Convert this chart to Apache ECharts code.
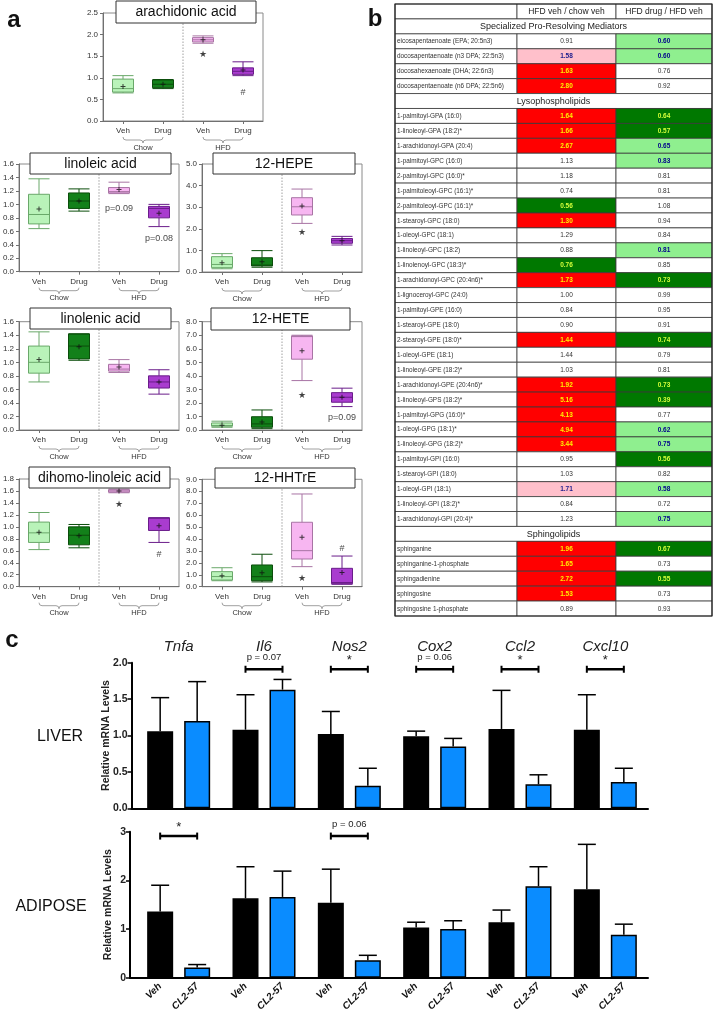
<!DOCTYPE html>
<html><head><meta charset="utf-8">
<script src="https://cdn.jsdelivr.net/npm/echarts@6/dist/echarts.min.js"></script>
<style>html,body{margin:0;padding:0;background:#fff}#c{width:714px;height:1018px}</style>
</head><body><div id="c"></div>
<script>
const FONT = '"Liberation Sans", Arial, sans-serif';

// ---------------- Panel a data ----------------
const groupLabels = ['Veh', 'Drug', 'Veh', 'Drug'];
const dietLabels = ['Chow', 'HFD'];
// box stats: [min, Q1, median, Q3, max]
const arachidonicBox = [[0.65,0.67,0.75,0.97,1.05],[0.75,0.77,0.85,0.95,0.96],[1.80,1.83,1.88,1.93,1.97],[1.05,1.08,1.15,1.23,1.37]];
const arachidonicMean = [0.80, 0.85, 1.88, 1.18];
const arachidonicMarks = [[2, 1.53, '★'], [3, 0.65, '#']];

const linoleicBox = [[0.64,0.71,0.85,1.15,1.38],[0.90,0.94,1.05,1.17,1.23],[1.16,1.17,1.19,1.25,1.33],[0.67,0.80,0.94,0.97,1.00]];
const linoleicMean = [0.93, 1.05, 1.22, 0.87];
const linoleicMarks = [[2, 0.94, 'p=0.09'], [3, 0.49, 'p=0.08']];

const hepeBox = [[0.15,0.20,0.35,0.71,0.85],[0.22,0.28,0.32,0.66,0.99],[2.25,2.64,3.02,3.44,3.84],[1.25,1.33,1.45,1.55,1.65]];
const hepeMean = [0.43, 0.48, 3.05, 1.45];
const hepeMarks = [[2, 1.82, '★']];

const linolenicBox = [[0.71,0.84,1.00,1.24,1.45],[1.03,1.05,1.24,1.42,1.42],[0.85,0.87,0.90,0.97,1.04],[0.53,0.62,0.71,0.80,0.89]];
const linolenicMean = [1.04, 1.23, 0.93, 0.71];
const linolenicMarks = [];

const heteBox = [[0.20,0.28,0.33,0.52,0.65],[0.10,0.20,0.45,0.98,1.48],[3.65,5.23,6.90,6.95,7.00],[1.73,2.05,2.42,2.76,3.09]];
const heteMean = [0.35, 0.60, 5.85, 2.42];
const heteMarks = [[2, 2.58, '★'], [3, 0.91, 'p=0.09']];

const dihomoBox = [[0.62,0.74,0.90,1.08,1.24],[0.65,0.70,0.86,1.00,1.04],[1.57,1.58,1.60,1.62,1.63],[0.74,0.94,1.15,1.15,1.15]];
const dihomoMean = [0.91, 0.85, 1.60, 1.02];
const dihomoMarks = [[2, 1.37, '★'], [3, 0.53, '#']];

const hhtreBox = [[0.50,0.56,0.85,1.26,1.59],[0.40,0.50,0.84,1.82,2.72],[1.68,2.32,3.02,5.40,7.77],[0.20,0.25,0.35,1.54,2.57]];
const hhtreMean = [0.92, 1.17, 4.14, 1.20];
const hhtreMarks = [[2, 0.65, '★'], [3, 3.2, '#']];

const plotTitles = ['arachidonic acid','linoleic acid','12-HEPE','linolenic acid','12-HETE','dihomo-linoleic acid','12-HHTrE'];
const plotBoxes = [arachidonicBox, linoleicBox, hepeBox, linolenicBox, heteBox, dihomoBox, hhtreBox];
const plotMeans = [arachidonicMean, linoleicMean, hepeMean, linolenicMean, heteMean, dihomoMean, hhtreMean];
const plotMarks = [arachidonicMarks, linoleicMarks, hepeMarks, linolenicMarks, heteMarks, dihomoMarks, hhtreMarks];
const plotYMax = [2.5, 1.6, 5, 1.6, 8, 1.8, 9];
const plotYStep = [0.5, 0.2, 1, 0.2, 1, 0.2, 1];

// ---------------- Panel b data ----------------
const colHeaders = ['HFD veh / chow veh', 'HFD drug / HFD veh'];
const sectionTitles = ['Specialized Pro-Resolving Mediators', 'Lysophospholipids', 'Sphingolipids'];
const spmNames = ['eicosapentaenoate (EPA; 20:5n3)','docosapentaenoate (n3 DPA; 22:5n3)','docosahexaenoate (DHA; 22:6n3)','docosapentaenoate (n6 DPA; 22:5n6)'];
const spmVeh = [0.91, 1.58, 1.63, 2.80];
const spmDrug = [0.60, 0.60, 0.76, 0.92];
const spmVehSig = ['W','P','R','R'];
const spmDrugSig = ['L','L','W','W'];
const lysoNames = ['1-palmitoyl-GPA (16:0)','1-linoleoyl-GPA (18:2)*','1-arachidonoyl-GPA (20:4)','1-palmitoyl-GPC (16:0)','2-palmitoyl-GPC (16:0)*','1-palmitoleoyl-GPC (16:1)*','2-palmitoleoyl-GPC (16:1)*','1-stearoyl-GPC (18:0)','1-oleoyl-GPC (18:1)','1-linoleoyl-GPC (18:2)','1-linolenoyl-GPC (18:3)*','1-arachidonoyl-GPC (20:4n6)*','1-lignoceroyl-GPC (24:0)','1-palmitoyl-GPE (16:0)','1-stearoyl-GPE (18:0)','2-stearoyl-GPE (18:0)*','1-oleoyl-GPE (18:1)','1-linoleoyl-GPE (18:2)*','1-arachidonoyl-GPE (20:4n6)*','1-linoleoyl-GPS (18:2)*','1-palmitoyl-GPG (16:0)*','1-oleoyl-GPG (18:1)*','1-linoleoyl-GPG (18:2)*','1-palmitoyl-GPI (16:0)','1-stearoyl-GPI (18:0)','1-oleoyl-GPI (18:1)','1-linoleoyl-GPI (18:2)*','1-arachidonoyl-GPI (20:4)*'];
const lysoVeh = [1.64,1.66,2.67,1.13,1.18,0.74,0.56,1.30,1.29,0.88,0.76,1.73,1.00,0.84,0.90,1.44,1.44,1.03,1.92,5.16,4.13,4.94,3.44,0.95,1.03,1.71,0.84,1.23];
const lysoDrug = [0.64,0.57,0.65,0.83,0.81,0.81,1.08,0.94,0.84,0.81,0.85,0.73,0.99,0.95,0.91,0.74,0.79,0.81,0.73,0.39,0.77,0.62,0.75,0.56,0.82,0.58,0.72,0.75];
const lysoVehSig = ['R','R','R','W','W','W','G','R','W','W','G','R','W','W','W','R','W','W','R','R','R','R','R','W','W','P','W','W'];
const lysoDrugSig = ['G','G','L','L','W','W','W','W','W','L','W','G','W','W','W','G','W','W','G','G','W','L','L','G','W','L','W','L'];
const sphNames = ['sphinganine','sphinganine-1-phosphate','sphingadienine','sphingosine','sphingosine 1-phosphate'];
const sphVeh = [1.96, 1.65, 2.72, 1.53, 0.89];
const sphDrug = [0.67, 0.73, 0.55, 0.73, 0.93];
const sphVehSig = ['R','R','R','R','W'];
const sphDrugSig = ['G','W','G','W','W'];

// ---------------- Panel c data ----------------
const genes = ['Tnfa','Il6','Nos2','Cox2','Ccl2','Cxcl10'];
const treatLabels = ['Veh', 'CL2-57'];
const liverVeh = [1.06, 1.08, 1.02, 0.99, 1.09, 1.08];
const liverVehUpper = [1.52, 1.56, 1.33, 1.06, 1.62, 1.56];
const liverCL = [1.20, 1.63, 0.31, 0.85, 0.33, 0.36];
const liverCLUpper = [1.74, 1.77, 0.55, 0.96, 0.46, 0.55];
const adiposeVeh = [1.36, 1.63, 1.54, 1.03, 1.14, 1.82];
const adiposeVehUpper = [1.90, 2.28, 2.23, 1.14, 1.39, 2.74];
const adiposeCL = [0.21, 1.66, 0.36, 1.00, 1.88, 0.88];
const adiposeCLUpper = [0.27, 2.19, 0.46, 1.17, 2.28, 1.10];
const liverSig = [[1, 'p = 0.07'], [2, '*'], [3, 'p = 0.06'], [4, '*'], [5, '*']];
const liverSigLevel = 1.91;
const adiposeSig = [[0, '*'], [2, 'p = 0.06']];
const adiposeSigLevel = 2.91;

// ---------------- Layout / style ----------------
const plotLayout = [
  {left:103, top:13, width:160, height:108, tb:[116,1,140,22]},
  {left:19, top:164, width:160, height:107.7, tb:[30,153,141,21]},
  {left:202, top:164, width:160, height:108, tb:[213,153,142,21]},
  {left:19, top:321.7, width:160, height:108.3, tb:[30,308,141,21]},
  {left:202, top:321.7, width:160, height:108.3, tb:[211,308,139,22]},
  {left:19, top:479, width:160, height:107.7, tb:[29,467,141,21]},
  {left:202, top:479.3, width:160, height:107.4, tb:[215,468,140,20]}
];
const boxFill = ['#b9f3b9', '#13801a', '#f7b6f1', '#a93ccf'];
const boxBorder = ['#6aa86a', '#0b4d0b', '#a874a4', '#6a1d8a'];
const plusPath = 'path://M2,0H3V2H5V3H3V5H2V3H0V2H2Z';
const sigStyle = {
  R:{bg:'#ff0000', fg:'#ffee00', bold:true},
  G:{bg:'#007800', fg:'#d4ff3a', bold:true},
  L:{bg:'#8fef8f', fg:'#00008b', bold:true},
  P:{bg:'#ffc0cb', fg:'#1a1a8c', bold:true},
  W:{bg:'#ffffff', fg:'#333333', bold:false}
};
const colEdges = [0, 122, 221, 317];
const BAR_W = 26, BAR_GAP = 11, BAR_OFF = (BAR_W + BAR_GAP) / 2, CAP = 9;

// table rows
const rows = [{k:'head'}];
function addSection(title, names, va, vb, sa, sb) {
  rows.push({k:'sec', t:title});
  names.forEach((n, i) => rows.push({k:'row', n, a:va[i], b:vb[i], sa:sa[i], sb:sb[i]}));
}
addSection(sectionTitles[0], spmNames, spmVeh, spmDrug, spmVehSig, spmDrugSig);
addSection(sectionTitles[1], lysoNames, lysoVeh, lysoDrug, lysoVehSig, lysoDrugSig);
addSection(sectionTitles[2], sphNames, sphVeh, sphDrug, sphVehSig, sphDrugSig);

const grid = [], xAxis = [], yAxis = [], series = [], graphics = [];
const axColor = '#707070';

plotTitles.forEach((title, i) => {
  const L = plotLayout[i];
  grid.push({left:L.left, top:L.top, width:L.width, height:L.height, show:true, borderColor:'#8a8a8a', borderWidth:1, outerBoundsMode:'none'});
  xAxis.push({gridIndex:i, type:'category', data:groupLabels,
    axisLine:{show:true, lineStyle:{color:axColor, width:1}},
    axisTick:{show:true, alignWithLabel:true, length:3, lineStyle:{color:axColor}},
    axisLabel:{fontSize:8, color:'#333', margin:6, interval:0, fontFamily:FONT},
    splitLine:{show:false}});
  yAxis.push({gridIndex:i, type:'value', min:0, max:plotYMax[i], interval:plotYStep[i],
    axisLine:{show:true, lineStyle:{color:axColor, width:1}},
    axisTick:{show:true, length:3, lineStyle:{color:axColor}},
    axisLabel:{fontSize:8, color:'#333', margin:5, fontFamily:FONT, formatter:v => v.toFixed(1)},
    splitLine:{show:false}});
  series.push({type:'boxplot', xAxisIndex:i, yAxisIndex:i, boxWidth:[21,21], silent:true,
    data: plotBoxes[i].map((d, k) => ({value:d, itemStyle:{color:boxFill[k], borderColor:boxBorder[k], borderWidth:1}}))});
  series.push({type:'scatter', xAxisIndex:i, yAxisIndex:i, symbol:plusPath, symbolSize:5, silent:true, z:5,
    itemStyle:{color:'#111'}, data: plotMeans[i].map((m, k) => [k, m])});
  series.push({type:'scatter', xAxisIndex:i, yAxisIndex:i, symbolSize:0, silent:true, z:6,
    data: plotMarks[i],
    label:{show:true, position:'inside', color:'#111', fontFamily:FONT,
      formatter: p => p.value[2], fontSize: 9}});
  const ymax = plotYMax[i];
  // divider between diet groups + braces with diet labels
  series.push({type:'custom', xAxisIndex:i, yAxisIndex:i, silent:true, clip:false, z:1,
    data: dietLabels.map((d, g) => [g * 2, 0]),
    renderItem: (params, api) => {
      const g = params.dataIndex;
      const a = api.coord([2*g, 0]), b = api.coord([2*g+1, 0]);
      const x0 = a[0], x1 = b[0], y = a[1] + 16, m = (x0 + x1) / 2, d = 3;
      const ch = [
        {type:'path', shape:{pathData:`M${x0},${y} Q${x0},${y+d} ${x0+d},${y+d} L${m-d},${y+d} Q${m},${y+d} ${m},${y+2*d} Q${m},${y+d} ${m+d},${y+d} L${x1-d},${y+d} Q${x1},${y+d} ${x1},${y}`},
          style:{fill:null, stroke:'#888', lineWidth:0.8}},
        {type:'text', style:{text:dietLabels[g], x:m, y:y+2*d+0.5, align:'center', verticalAlign:'top', fontSize:7.5, fill:'#333', fontFamily:FONT}}
      ];
      if (g === 0) {
        const c1 = api.coord([1, 0]), c2 = api.coord([2, ymax]);
        const xd = (c1[0] + c2[0]) / 2;
        ch.push({type:'line', shape:{x1:xd, y1:c1[1], x2:xd, y2:c2[1]}, style:{stroke:'#888', lineWidth:0.8, lineDash:[1.5,1.5]}});
      }
      return {type:'group', children:ch};
    }});
  // title box
  const t = L.tb;
  graphics.push({type:'group', z:100, children:[
    {type:'rect', shape:{x:t[0], y:t[1], width:t[2], height:t[3]}, style:{fill:'#fff', stroke:'#333', lineWidth:1}, z:100},
    {type:'text', x:t[0] + t[2]/2, y:t[1] + t[3]/2 + 0.5, style:{text:title, align:'center', verticalAlign:'middle', fontSize:14, fill:'#111', fontFamily:FONT}, z:101}
  ]});
});

// ---------------- Table ----------------
const TI = plotTitles.length;
grid.push({left:395, top:4, width:colEdges[3], height:612, show:false, outerBoundsMode:'none'});
xAxis.push({gridIndex:TI, type:'value', min:0, max:colEdges[3], show:false});
yAxis.push({gridIndex:TI, type:'value', min:0, max:rows.length, inverse:true, show:false});
series.push({type:'custom', xAxisIndex:TI, yAxisIndex:TI, silent:true, clip:false,
  data: rows.map((r, i) => [0, i]),
  renderItem: (params, api) => {
    const i = params.dataIndex, r = rows[i];
    const y0 = api.coord([0, i])[1], y1 = api.coord([0, i + 1])[1];
    const xs = colEdges.map(e => api.coord([e, 0])[0]);
    const h = y1 - y0, ym = (y0 + y1) / 2;
    const ch = [];
    const cell = (x0, x1, fill) => ({type:'rect', shape:{x:x0, y:y0, width:x1 - x0, height:h}, style:{fill, stroke:'#3a3a3a', lineWidth:0.8}});
    const txt = (s, x, align, size, color, bold) => ({type:'text', style:{text:s, x, y:ym + 0.3, align, verticalAlign:'middle', fontSize:size, fontWeight:bold ? 'bold' : 'normal', fontFamily:FONT, fill:color}});
    if (r.k === 'head') {
      for (let c = 0; c < 3; c++) ch.push(cell(xs[c], xs[c+1], '#fff'));
      ch.push(txt(colHeaders[0], (xs[1] + xs[2]) / 2, 'center', 8.5, '#222', false));
      ch.push(txt(colHeaders[1], (xs[2] + xs[3]) / 2, 'center', 8.5, '#222', false));
    } else if (r.k === 'sec') {
      ch.push(cell(xs[0], xs[3], '#fff'));
      ch.push(txt(r.t, (xs[0] + xs[3]) / 2, 'center', 9, '#222', false));
    } else {
      ch.push(cell(xs[0], xs[1], '#fff'));
      ch.push(txt(r.n, xs[0] + 2, 'left', 6.4, '#333', false));
      const A = sigStyle[r.sa], B = sigStyle[r.sb];
      ch.push(cell(xs[1], xs[2], A.bg));
      ch.push(txt(r.a.toFixed(2), (xs[1] + xs[2]) / 2, 'center', 6.5, A.fg, A.bold));
      ch.push(cell(xs[2], xs[3], B.bg));
      ch.push(txt(r.b.toFixed(2), (xs[2] + xs[3]) / 2, 'center', 6.5, B.fg, B.bold));
    }
    if (i === rows.length - 1) {
      const top = api.coord([0, 0])[1];
      ch.push({type:'rect', shape:{x:xs[0], y:top, width:xs[3] - xs[0], height:y1 - top}, style:{fill:null, stroke:'#222', lineWidth:1.2}});
    }
    return {type:'group', children:ch};
  }});

// ---------------- Panel c ----------------
function addBarPanel(opt) {
  const fi = grid.length;
  grid.push({left:opt.frameLeft, right:66, top:opt.top, height:opt.height, outerBoundsMode:'none'});
  xAxis.push({gridIndex:fi, type:'value', min:0, max:1,
    axisLine:{show:true, onZero:false, lineStyle:{color:'#000', width:2}},
    axisTick:{show:false}, axisLabel:{show:false}, splitLine:{show:false}});
  yAxis.push({gridIndex:fi, type:'value', min:0, max:opt.max, interval:opt.step,
    axisLine:{show:true, lineStyle:{color:'#000', width:2}},
    axisTick:{show:true, length:4, lineStyle:{color:'#000', width:1.5}},
    axisLabel:{fontWeight:'bold', fontSize:10.5, color:'#222', margin:4, fontFamily:FONT, formatter:opt.fmt},
    splitLine:{show:false},
    name:'Relative mRNA Levels', nameLocation:'middle', nameGap:opt.nameGap, nameRotate:90, nameMoveOverlap:false,
    nameTextStyle:{fontWeight:'bold', fontSize:10.5, color:'#222', fontFamily:FONT}});
  const bi = grid.length;
  grid.push({left:136, right:66, top:opt.top, height:opt.height, outerBoundsMode:'none'});
  xAxis.push({gridIndex:bi, type:'category', data:genes, position:'top',
    axisLine:{show:false}, axisTick:{show:false}, splitLine:{show:false},
    axisLabel:{show:opt.showGenes, fontStyle:'italic', fontSize:15, color:'#222', margin:8, interval:0, fontFamily:FONT}});
  yAxis.push({gridIndex:bi, type:'value', min:0, max:opt.max, show:false});
  const labelFor = (k) => opt.showTreat ? {show:true, position:'bottom', distance:7, rotate:45, align:'right', verticalAlign:'middle',
      formatter: treatLabels[k], fontWeight:'bold', fontStyle:'italic', fontSize:10, color:'#111', fontFamily:FONT} : {show:false};
  series.push({type:'bar', xAxisIndex:bi, yAxisIndex:bi, barWidth:BAR_W, barGap:(BAR_GAP / BAR_W * 100) + '%', silent:true,
    itemStyle:{color:'#000', borderColor:'#000', borderWidth:1.5}, data:opt.veh, label:labelFor(0)});
  series.push({type:'bar', xAxisIndex:bi, yAxisIndex:bi, barWidth:BAR_W, silent:true,
    itemStyle:{color:'#0a8cff', borderColor:'#000', borderWidth:1.5}, data:opt.cl, label:labelFor(1)});
  const errRender = (side) => (params, api) => {
    const c = api.value(0);
    const base = api.coord([c, api.value(1)]), top = api.coord([c, api.value(2)]);
    const x = base[0] + side * BAR_OFF;
    return {type:'group', children:[
      {type:'line', shape:{x1:x, y1:base[1], x2:x, y2:top[1]}, style:{stroke:'#000', lineWidth:1.5}},
      {type:'line', shape:{x1:x - CAP, y1:top[1], x2:x + CAP, y2:top[1]}, style:{stroke:'#000', lineWidth:1.5}}
    ]};
  };
  series.push({type:'custom', xAxisIndex:bi, yAxisIndex:bi, silent:true, clip:false, z:1,
    data: opt.veh.map((v, k) => [k, v, opt.vehUp[k]]), renderItem: errRender(-1)});
  series.push({type:'custom', xAxisIndex:bi, yAxisIndex:bi, silent:true, clip:false, z:1,
    data: opt.cl.map((v, k) => [k, v, opt.clUp[k]]), renderItem: errRender(1)});
  series.push({type:'custom', xAxisIndex:bi, yAxisIndex:bi, silent:true, clip:false, z:4,
    data: opt.sig.map(s => [s[0], opt.sigLevel]),
    renderItem: (params, api) => {
      const s = opt.sig[params.dataIndex];
      const p = api.coord([s[0], opt.sigLevel]);
      const x0 = p[0] - BAR_OFF, x1 = p[0] + BAR_OFF, y = p[1];
      return {type:'group', children:[
        {type:'line', shape:{x1:x0, y1:y, x2:x1, y2:y}, style:{stroke:'#000', lineWidth:2.5}},
        {type:'line', shape:{x1:x0, y1:y - 3.5, x2:x0, y2:y + 3.5}, style:{stroke:'#000', lineWidth:2}},
        {type:'line', shape:{x1:x1, y1:y - 3.5, x2:x1, y2:y + 3.5}, style:{stroke:'#000', lineWidth:2}},
        {type:'text', style:{text:s[1], x:p[0], y:y - (s[1] === '*' ? 9 : 12), align:'center', verticalAlign:'middle',
          fontSize: s[1] === '*' ? 13 : 9.5, fill:'#222', fontFamily:FONT}}
      ]};
    }});
}
addBarPanel({frameLeft:131.5, top:662.7, height:145.6, max:2, step:0.5, fmt:v => v.toFixed(1), nameGap:20,
  showGenes:true, showTreat:false, veh:liverVeh, vehUp:liverVehUpper, cl:liverCL, clUp:liverCLUpper, sig:liverSig, sigLevel:liverSigLevel});
addBarPanel({frameLeft:130, top:831.7, height:146, max:3, step:1, fmt:v => String(v), nameGap:16,
  showGenes:false, showTreat:true, veh:adiposeVeh, vehUp:adiposeVehUpper, cl:adiposeCL, clUp:adiposeCLUpper, sig:adiposeSig, sigLevel:adiposeSigLevel});

// panel labels & row labels
const panelText = [['a', 14, 20, 24, 'bold'], ['b', 375, 19.5, 24, 'bold'], ['c', 12, 640.5, 24, 'bold'], ['LIVER', 60, 737, 16, 'normal'], ['ADIPOSE', 51, 907, 16, 'normal']];
panelText.forEach(p => graphics.push({type:'text', x:p[1], y:p[2], z:100,
  style:{text:p[0], align:'center', verticalAlign:'middle', fontSize:p[3], fontWeight:p[4], fill:'#111', fontFamily:FONT}}));

const chart = echarts.init(document.getElementById('c'), null, {renderer:'canvas', width:714, height:1018});
chart.setOption({
  animation:false,
  backgroundColor:'#fff',
  textStyle:{fontFamily:FONT},
  grid, xAxis, yAxis, series,
  graphic:{elements:graphics}
});
</script></body></html>
